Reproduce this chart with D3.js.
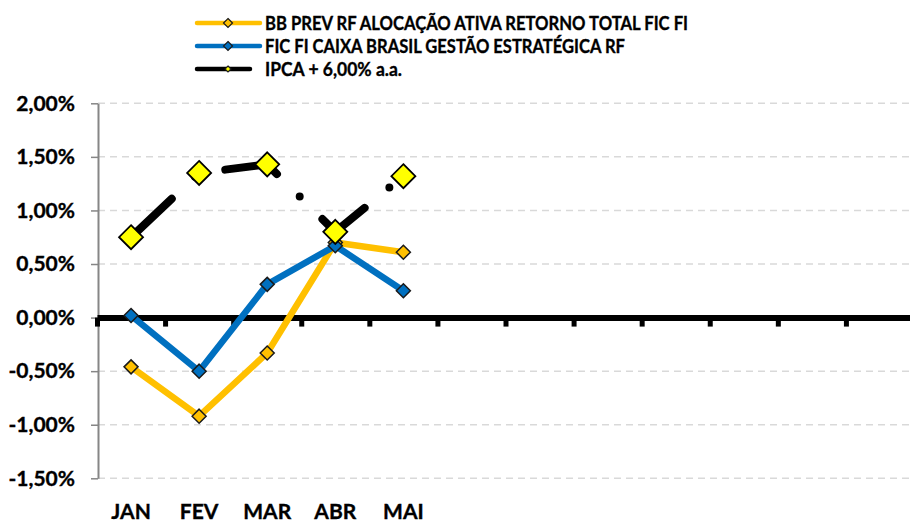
<!DOCTYPE html>
<html>
<head>
<meta charset="utf-8">
<script src="https://cdn.jsdelivr.net/npm/d3@7"></script>
<style>
  body { margin: 0; background: #ffffff; overflow: hidden; }
  #chart text { font-family: Lato, "Open Sans", sans-serif; font-weight: bold; fill: #000; stroke: #000; stroke-width: 0.35px; }
</style>
</head>
<body>
<div id="chart"></div>
<script>
// data (monthly return, %)
var months = ["JAN", "FEV", "MAR", "ABR", "MAI", "", "", "", "", "", "", ""];
var bbPrev = [-0.46, -0.92, -0.33, 0.70, 0.61];
var caixa = [0.02, -0.50, 0.31, 0.67, 0.25];
var ipca = [0.75, 1.35, 1.43, 0.80, 1.32];
var yTicks = [-1.5, -1.0, -0.5, 0, 0.5, 1.0, 1.5, 2.0];

var seriesNames = ["BB PREV RF ALOCAÇÃO ATIVA RETORNO TOTAL FIC FI",
                   "FIC FI CAIXA BRASIL GESTÃO ESTRATÉGICA RF",
                   "IPCA + 6,00% a.a."];

drawChart();

function drawChart() {
    var width = 910, height = 523;
    var left = 97, right = 914, top = 103.3, bottom = 478.3;

    var svg = d3.select("#chart")
      .append("svg")
        .attr("width", width)
        .attr("height", height);

    var x = d3.scaleBand()
      .domain(d3.range(months.length))
      .range([left, right])
      .paddingInner(0)
      .paddingOuter(0);
    var xEdge = d3.scaleLinear()
      .domain([0, months.length])
      .range([left, right]);
    var cx = function(i) { return x(i) + x.bandwidth() / 2; };

    var y = d3.scaleLinear()
      .domain([-1.5, 2])
      .range([bottom, top]);

    // dashed gridlines
    svg.append("g")
      .selectAll("line")
      .data(yTicks.filter(d => d !== 0))
      .enter()
      .append("line")
        .attr("x1", left + 1)
        .attr("x2", width)
        .attr("y1", d => y(d))
        .attr("y2", d => y(d))
        .attr("stroke", "#d9d9d9")
        .attr("stroke-width", 1.5)
        .attr("stroke-dasharray", "7,5");

    // y axis
    var fmt = function(d) { return d3.format(".2f")(d).replace(".", ",").replace("−", "-") + "%"; };
    var yAxis = svg.append("g")
      .attr("transform", "translate(" + (left + 1) + ",0)")
      .call(d3.axisLeft(y).tickValues(yTicks).tickSize(7).tickSizeOuter(0).tickPadding(16).tickFormat(fmt));
    yAxis.select(".domain").attr("stroke", "#868686").attr("stroke-width", 2);
    yAxis.selectAll(".tick line").attr("stroke", "#868686").attr("stroke-width", 1.5);
    yAxis.selectAll(".tick text").style("font-size", "21px");

    // x axis drawn at zero
    var xAxis = svg.append("g")
      .attr("transform", "translate(0," + y(0) + ")")
      .call(d3.axisBottom(xEdge).ticks(months.length).tickSize(9).tickSizeOuter(0).tickFormat(""));
    xAxis.select(".domain").attr("stroke", "#000").attr("stroke-width", 6);
    xAxis.selectAll(".tick line").attr("stroke", "#000").attr("stroke-width", 5);

    // category labels
    var xLabels = svg.append("g")
      .attr("transform", "translate(0,504)")
      .call(d3.axisBottom(x).tickSize(0).tickPadding(0).tickFormat(i => months[i]));
    xLabels.select(".domain").remove();
    xLabels.selectAll("text").style("font-size", "21px");

    var line = d3.line()
      .x((d, i) => cx(i))
      .y(d => y(d));

    var diamond = function(r) {
      return "M0," + (-r) + "L" + r + ",0L0," + r + "L" + (-r) + ",0Z";
    };

    // two funds
    var funds = [
      {values: bbPrev, colour: "#ffc000"},
      {values: caixa, colour: "#0070c0"}
    ];
    funds.forEach(function(s) {
      svg.append("path")
        .datum(s.values)
        .attr("d", line)
        .attr("fill", "none")
        .attr("stroke", s.colour)
        .attr("stroke-width", 6.5)
        .attr("stroke-linejoin", "round");
      svg.append("g")
        .selectAll("path")
        .data(s.values)
        .enter()
        .append("path")
          .attr("d", diamond(7))
          .attr("transform", (d, i) => "translate(" + cx(i) + "," + y(d) + ")")
          .attr("fill", s.colour)
          .attr("stroke", "#1a1a1a")
          .attr("stroke-width", 1.5);
    });

    // benchmark, long dash dot
    svg.append("path")
      .datum(ipca)
      .attr("d", line)
      .attr("fill", "none")
      .attr("stroke", "#000")
      .attr("stroke-width", 8)
      .attr("stroke-linecap", "round")
      .attr("stroke-linejoin", "round")
      .attr("stroke-dasharray", "56,32,0,32");
    svg.append("g")
      .selectAll("path")
      .data(ipca)
      .enter()
      .append("path")
        .attr("d", diamond(12))
        .attr("transform", (d, i) => "translate(" + cx(i) + "," + y(d) + ")")
        .attr("fill", "#ffff00")
        .attr("stroke", "#000")
        .attr("stroke-width", 1.8);

    // legend
    var legendRows = [
      {colour: "#ffc000", x2: 260, r: 4.5, fill: "#ffc000", w: 423},
      {colour: "#0070c0", x2: 260, r: 4.5, fill: "#0070c0", w: 360},
      {colour: "#000000", x2: 250, r: 3, fill: "#ffff00", w: 137}
    ];
    var legend = svg.append("g");
    legendRows.forEach(function(row, k) {
      var ly = 23 + k * 23;
      legend.append("line")
        .attr("x1", 197).attr("x2", row.x2)
        .attr("y1", ly).attr("y2", ly)
        .attr("stroke", row.colour)
        .attr("stroke-width", 4.5)
        .attr("stroke-linecap", "round");
      legend.append("path")
        .attr("d", diamond(row.r))
        .attr("transform", "translate(228," + ly + ")")
        .attr("fill", row.fill)
        .attr("stroke", "#1a1a1a")
        .attr("stroke-width", 1.2);
      legend.append("text")
        .attr("x", 265)
        .attr("y", ly)
        .attr("dy", "0.35em")
        .attr("textLength", row.w)
        .attr("lengthAdjust", "spacingAndGlyphs")
        .style("font-size", "19px")
        .text(seriesNames[k]);
    });
}
</script>
</body>
</html>
